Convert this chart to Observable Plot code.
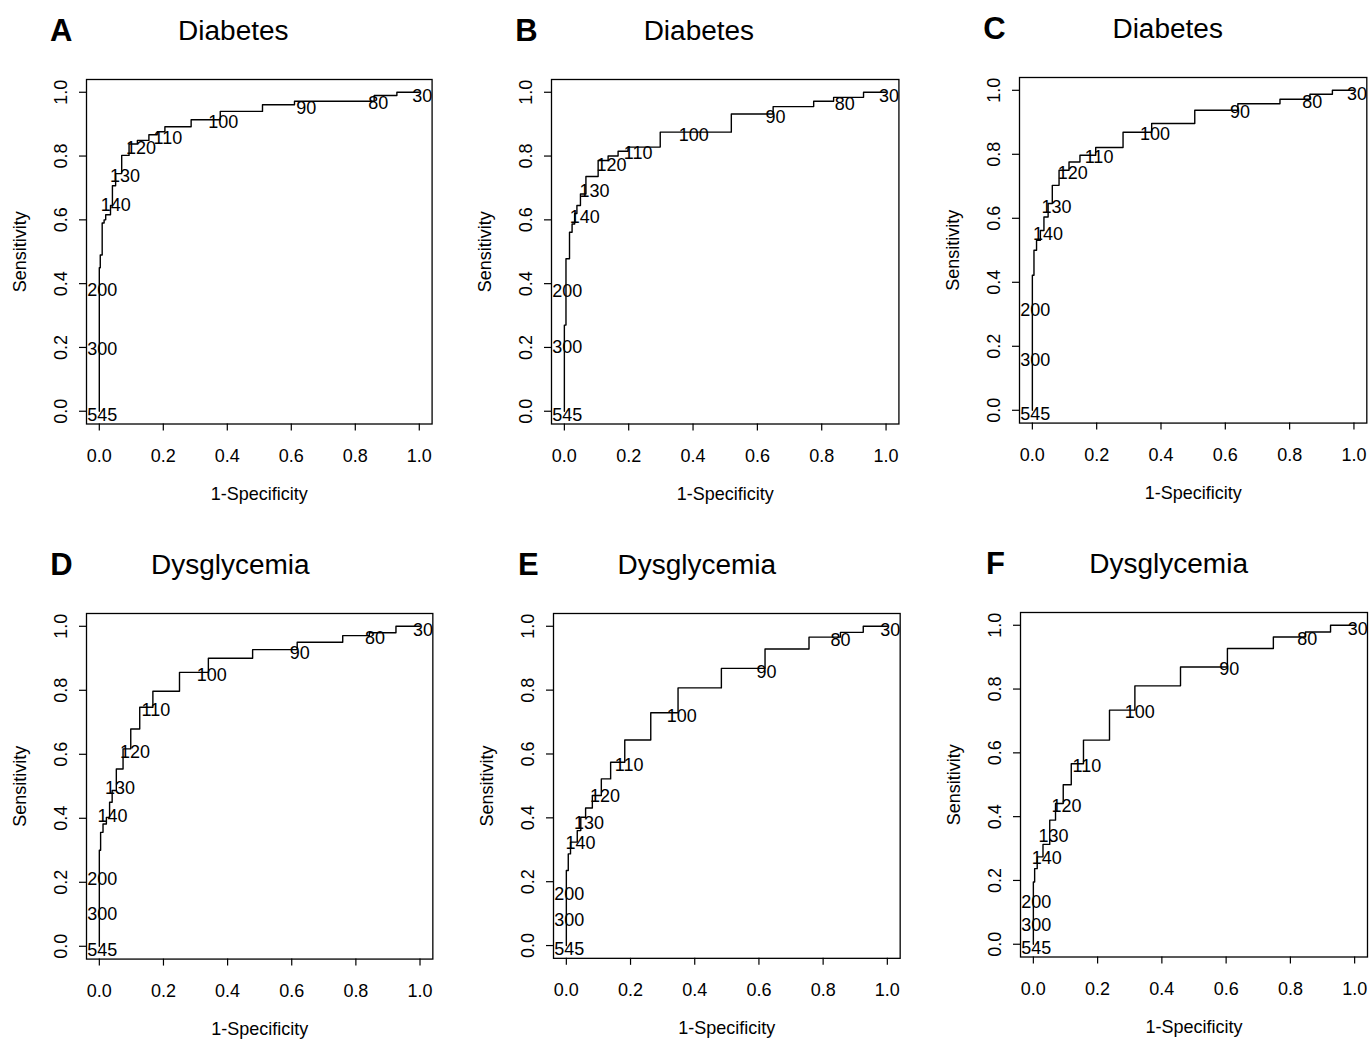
<!DOCTYPE html>
<html><head><meta charset="utf-8">
<script src="https://cdn.jsdelivr.net/npm/d3@7"></script>
<script src="https://cdn.jsdelivr.net/npm/@observablehq/plot@0.6"></script>
<style>
html,body{margin:0;padding:0;background:#fff;}
#chart{position:relative;width:1372px;height:1039px;overflow:hidden;background:#fff;}
#chart svg{position:absolute;overflow:visible;}
</style></head><body><div id="chart"></div>
<script>
// Tick values
const xTicks = [0, 0.2, 0.4, 0.6, 0.8, 1.0];
const yTicks = [0, 0.2, 0.4, 0.6, 0.8, 1.0];
// Cutoff labels printed on each ROC curve
const cutoffs = ["545", "300", "200", "140", "130", "120", "110", "100", "90", "80", "30"];

// ROC step curves (1-specificity, sensitivity)
const fprA = [0, 0, 0.003, 0.009, 0.015, 0.020, 0.035, 0.041, 0.051, 0.070, 0.093, 0.119, 0.155, 0.181, 0.205, 0.287, 0.378, 0.51, 0.61, 0.859, 0.93, 1];
const tprA = [0, 0.45, 0.49, 0.59, 0.60, 0.616, 0.645, 0.707, 0.745, 0.802, 0.838, 0.849, 0.867, 0.876, 0.892, 0.914, 0.94, 0.961, 0.972, 0.99, 1, 1];
const fprB = [0, 0, 0.005, 0.016, 0.024, 0.032, 0.039, 0.05, 0.067, 0.105, 0.136, 0.167, 0.198, 0.298, 0.519, 0.649, 0.775, 0.837, 0.93, 1];
const tprB = [0, 0.27, 0.478, 0.561, 0.587, 0.62, 0.645, 0.681, 0.736, 0.786, 0.80, 0.815, 0.828, 0.875, 0.932, 0.955, 0.972, 0.984, 1, 1];
const fprC = [0, 0, 0.005, 0.013, 0.025, 0.036, 0.049, 0.062, 0.083, 0.114, 0.148, 0.197, 0.282, 0.371, 0.505, 0.639, 0.77, 0.863, 0.933, 1];
const tprC = [0, 0.422, 0.50, 0.531, 0.562, 0.604, 0.646, 0.703, 0.75, 0.776, 0.797, 0.821, 0.869, 0.896, 0.9375, 0.958, 0.972, 0.9875, 1, 1];
const fprD = [0, 0, 0.004, 0.0115, 0.022, 0.032, 0.04, 0.053, 0.074, 0.098, 0.126, 0.167, 0.25, 0.34, 0.478, 0.617, 0.759, 0.842, 0.925, 1];
const tprD = [0, 0.30, 0.356, 0.382, 0.403, 0.45, 0.487, 0.554, 0.617, 0.679, 0.747, 0.797, 0.856, 0.90, 0.927, 0.95, 0.971, 0.98, 1, 1];
const fprE = [0, 0, 0.006, 0.013, 0.034, 0.045, 0.06, 0.081, 0.109, 0.138, 0.182, 0.263, 0.348, 0.483, 0.619, 0.756, 0.854, 0.925, 1];
const tprE = [0, 0.235, 0.287, 0.324, 0.36, 0.402, 0.431, 0.47, 0.522, 0.574, 0.644, 0.729, 0.807, 0.868, 0.929, 0.966, 0.981, 1, 1];
const fprF = [0, 0, 0.004, 0.012, 0.03, 0.051, 0.069, 0.093, 0.118, 0.156, 0.237, 0.316, 0.458, 0.604, 0.747, 0.847, 0.925, 1];
const tprF = [0, 0.195, 0.237, 0.274, 0.313, 0.389, 0.441, 0.5, 0.566, 0.64, 0.734, 0.81, 0.869, 0.927, 0.963, 0.979, 1, 1];

// Positions of the cutoff labels on each curve
const labFprA = [0, 0, 0, 0.042, 0.071, 0.121, 0.205, 0.378, 0.637, 0.862, 1];
const labTprA = [0, 0.208, 0.391, 0.657, 0.748, 0.838, 0.868, 0.917, 0.964, 0.979, 1];
const labFprB = [0, 0, 0, 0.054, 0.084, 0.137, 0.22, 0.393, 0.647, 0.862, 1];
const labTprB = [0, 0.213, 0.389, 0.621, 0.702, 0.783, 0.821, 0.879, 0.934, 0.976, 1];
const labFprC = [0, 0, 0, 0.039, 0.066, 0.116, 0.198, 0.372, 0.636, 0.861, 1];
const labTprC = [0, 0.169, 0.325, 0.5625, 0.648, 0.752, 0.802, 0.874, 0.943, 0.976, 1];
const labFprD = [0, 0, 0, 0.032, 0.055, 0.102, 0.167, 0.341, 0.616, 0.85, 1];
const labTprD = [0, 0.114, 0.221, 0.419, 0.506, 0.619, 0.749, 0.858, 0.928, 0.976, 1];
const labFprE = [0, 0, 0, 0.035, 0.061, 0.111, 0.186, 0.35, 0.614, 0.845, 1];
const labTprE = [0, 0.091, 0.174, 0.334, 0.397, 0.48, 0.576, 0.731, 0.87, 0.969, 1];
const labFprF = [0, 0, 0, 0.032, 0.053, 0.094, 0.157, 0.322, 0.6, 0.843, 1];
const labTprF = [0, 0.072, 0.145, 0.281, 0.352, 0.444, 0.57, 0.739, 0.875, 0.968, 1];

const letters = ["A", "B", "C", "D", "E", "F"];
const titles = ["Diabetes", "Diabetes", "Diabetes", "Dysglycemia", "Dysglycemia", "Dysglycemia"];

// Layout (pixel geometry of each panel)
const layout = [
  {x0: 98.3, y1: 91.7, xu: 320, yu: 319, tdx: 134},
  {x0: 564, y1: 91.7, xu: 321.7, yu: 319, tdx: 134.5},
  {x0: 1031.7, y1: 90, xu: 321.6, yu: 320, tdx: 135.3},
  {x0: 99.3, y1: 625.7, xu: 320.7, yu: 320, tdx: 131},
  {x0: 565.7, y1: 625.7, xu: 321, yu: 319.3, tdx: 130.5},
  {x0: 1032.7, y1: 625, xu: 321.3, yu: 319, tdx: 135.3}
];
const series = [
  [fprA, tprA, labFprA, labTprA],
  [fprB, tprB, labFprB, labTprB],
  [fprC, tprC, labFprC, labTprC],
  [fprD, tprD, labFprD, labTprD],
  [fprE, tprE, labFprE, labTprE],
  [fprF, tprF, labFprF, labTprF]
];

const ml = 86, mr = 10, mt = 70, mb = 85;
const font = "'Liberation Sans', Arial, Helvetica, sans-serif";
const fmt = d3.format(".1f");
const chart = document.getElementById("chart");

layout.forEach((g, k) => {
  const [fpr, tpr, lf, lt] = series[k];
  const curve = fpr.map((f, i) => ({fpr: f, tpr: tpr[i]}));
  const labels = cutoffs.map((c, i) => ({cut: c, fpr: lf[i], tpr: lt[i]}));
  const w = ml + 1.08 * g.xu + mr;
  const h = mt + 1.08 * g.yu + mb;
  const svg = Plot.plot({
    width: w, height: h,
    marginLeft: ml, marginRight: mr, marginTop: mt, marginBottom: mb,
    x: {domain: [-0.04, 1.04], label: null},
    y: {domain: [-0.04, 1.04], label: null},
    style: {fontFamily: font, background: "white", color: "black", overflow: "visible"},
    marks: [
      Plot.frame({stroke: "black", strokeWidth: 1.3}),
      Plot.axisX({ticks: xTicks, tickSize: 7, tickFormat: () => "", label: null, strokeWidth: 1.2}),
      Plot.axisY({ticks: yTicks, tickSize: 7, tickFormat: () => "", label: null, strokeWidth: 1.2}),
      Plot.text(xTicks, {x: d => d, frameAnchor: "bottom", dy: 32, text: d => fmt(d), fontSize: 18, textAnchor: "middle", lineAnchor: "middle"}),
      Plot.text(yTicks, {y: d => d, frameAnchor: "left", dx: -25, rotate: -90, text: d => fmt(d), fontSize: 18, textAnchor: "middle", lineAnchor: "middle"}),
      Plot.text(["1-Specificity"], {frameAnchor: "bottom", dy: 70, text: d => d, fontSize: 18, textAnchor: "middle", lineAnchor: "middle"}),
      Plot.text(["Sensitivity"], {frameAnchor: "left", dx: -66, rotate: -90, text: d => d, fontSize: 18, textAnchor: "middle", lineAnchor: "middle"}),
      Plot.text([letters[k]], {frameAnchor: "top-left", dx: 0.04 * g.xu - 38, dy: -48, text: d => d, fontSize: 31, fontWeight: "bold", textAnchor: "middle", lineAnchor: "middle"}),
      Plot.text([titles[k]], {frameAnchor: "top-left", dx: 0.04 * g.xu + g.tdx, dy: -48, text: d => d, fontSize: 28, textAnchor: "middle", lineAnchor: "middle"}),
      Plot.line(curve, {x: "fpr", y: "tpr", curve: "step-after", stroke: "black", strokeWidth: 1.4}),
      Plot.text(labels, {x: "fpr", y: "tpr", text: "cut", dx: 3, dy: 4, fontSize: 18, textAnchor: "middle", lineAnchor: "middle"})
    ]
  });
  svg.style.left = (g.x0 - 0.04 * g.xu - ml) + "px";
  svg.style.top = (g.y1 - 0.04 * g.yu - mt) + "px";
  chart.appendChild(svg);
});
</script></body></html>
